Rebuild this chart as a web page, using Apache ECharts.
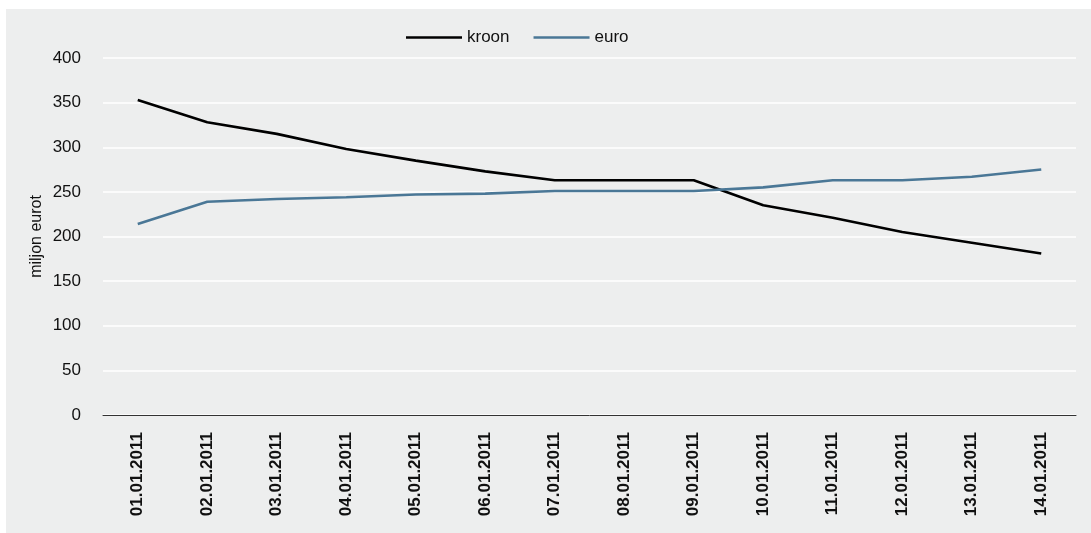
<!DOCTYPE html>
<html lang="et">
<head>
    <meta charset="UTF-8">
    <title>kroon / euro</title>
    <script src="https://cdn.jsdelivr.net/npm/echarts@6/dist/echarts.min.js"></script>
    <style>
        body { margin: 0; background: #ffffff; }
        #graph { position: absolute; left: 6px; top: 9px; width: 1085px; height: 524px; background: #edeeee; }
    </style>
</head>
<body>
    <div id="graph"></div>

    <script>
        var dates = ['01.01.2011', '02.01.2011', '03.01.2011', '04.01.2011', '05.01.2011', '06.01.2011', '07.01.2011',
                     '08.01.2011', '09.01.2011', '10.01.2011', '11.01.2011', '12.01.2011', '13.01.2011', '14.01.2011'];
        var kroon = [353, 328, 315, 298, 285, 273, 263, 263, 263, 235, 221, 205, 193, 181];
        var euro = [214, 239, 242, 244, 247, 248, 251, 251, 251, 255, 263, 263, 267, 275];

        var font = 'Liberation Sans, Arial, Helvetica, sans-serif';
        var myChart = echarts.init(document.getElementById('graph'));

        var option = {
            backgroundColor: '#edeeee',
            textStyle: { fontFamily: font },
            legend: {
                left: 395,
                top: 15,
                icon: 'rect',
                itemWidth: 56,
                itemHeight: 2.6,
                itemGap: 24,
                textStyle: { fontSize: 17, color: '#111', fontFamily: font },
                data: ['kroon', 'euro']
            },
            grid: { left: 97, right: 15, top: 49, bottom: 118 },
            xAxis: {
                type: 'category',
                data: dates,
                axisLine: { lineStyle: { color: '#333', width: 1 } },
                axisTick: { show: false },
                axisLabel: {
                    rotate: 90,
                    margin: 17,
                    fontSize: 17,
                    fontWeight: 'bold',
                    color: '#111',
                    fontFamily: font,
                    interval: 0
                }
            },
            yAxis: {
                type: 'value',
                min: 0,
                max: 400,
                interval: 50,
                name: 'miljon eurot',
                nameLocation: 'middle',
                nameGap: 58,
                nameMoveOverlap: false,
                nameTextStyle: { fontSize: 16, color: '#111', fontFamily: font },
                axisLine: { show: false },
                axisTick: { show: false },
                axisLabel: { fontSize: 17, color: '#111', margin: 22, fontFamily: font },
                splitLine: { lineStyle: { color: '#ffffff', width: 1.5 } }
            },
            series: [
                {
                    name: 'kroon',
                    type: 'line',
                    data: kroon,
                    symbol: 'none',
                    lineStyle: { color: '#000000', width: 2.6 },
                    itemStyle: { color: '#000000' }
                },
                {
                    name: 'euro',
                    type: 'line',
                    data: euro,
                    symbol: 'none',
                    lineStyle: { color: '#4a7796', width: 2.6 },
                    itemStyle: { color: '#4a7796' }
                }
            ]
        };
        myChart.setOption(option);
    </script>
</body>
</html>
